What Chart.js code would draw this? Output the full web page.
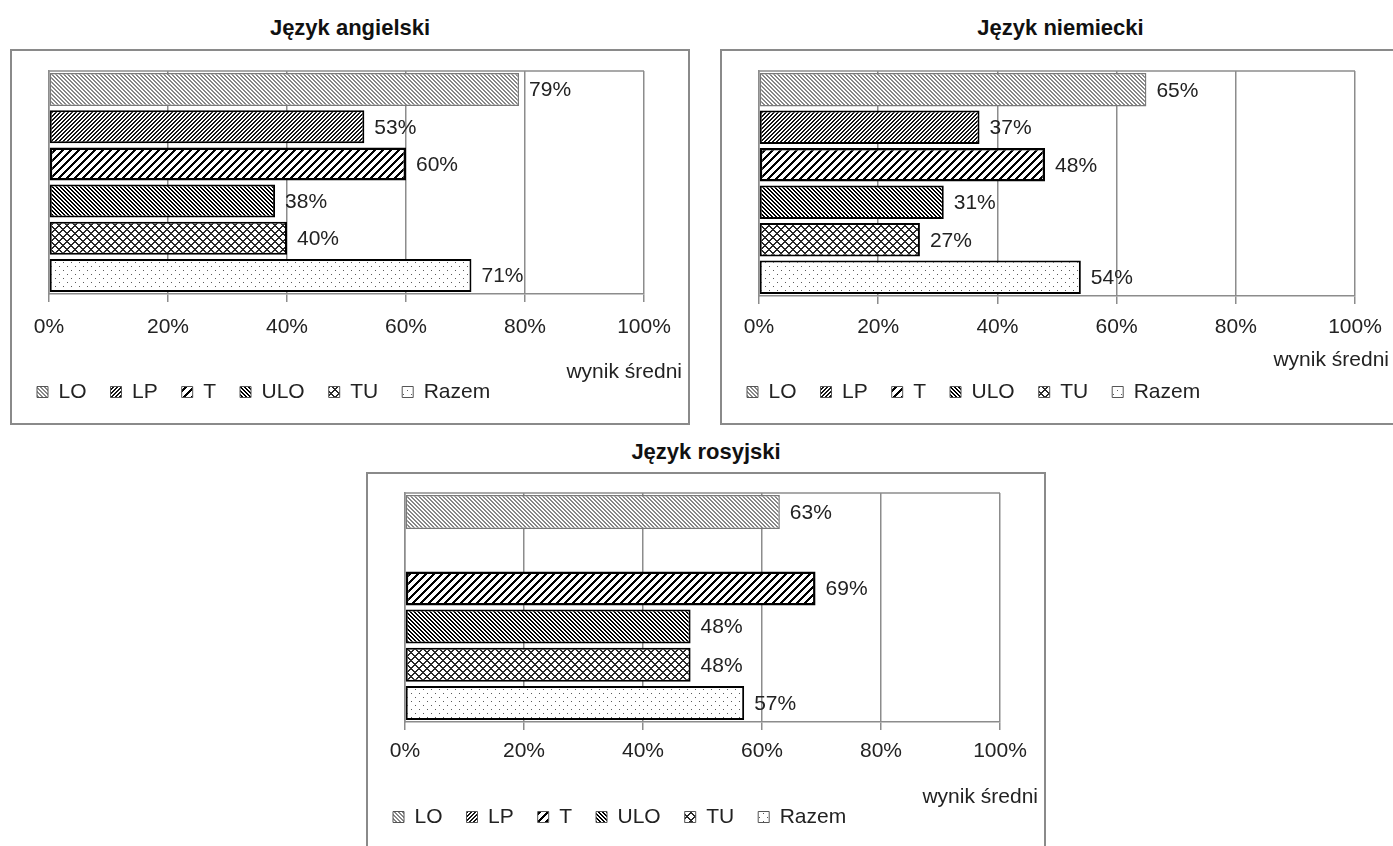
<!DOCTYPE html>
<html><head><meta charset="utf-8">
<script src="https://cdn.jsdelivr.net/npm/chart.js@4.4.1/dist/chart.umd.min.js"></script>
<style>
html,body{margin:0;padding:0;background:#fff;overflow:hidden;width:1393px;height:846px;position:relative;}
.frame{position:absolute;border:2px solid #8a8a8a;box-sizing:border-box;}
.chart{position:absolute;}
.title{position:absolute;font:bold 22px "Liberation Sans",Arial,sans-serif;color:#111;text-align:center;height:26px;line-height:26px;white-space:nowrap;}
</style></head><body>
<script>
// ---- data ----
const categories = ['LO', 'LP', 'T', 'ULO', 'TU', 'Razem'];
const tickValues = [0, 20, 40, 60, 80, 100];
const angielski = [79, 53, 60, 38, 40, 71];
const niemiecki = [65, 37, 48, 31, 27, 54];
const rosyjski = [63, null, 69, 48, 48, 57];
const titles = ['Język angielski', 'Język niemiecki', 'Język rosyjski'];
const axisTitle = 'wynik średni';

// ---- patterns ----
function makeTile(size, fn) {
  const c = document.createElement('canvas');
  c.width = size; c.height = size;
  const g = c.getContext('2d');
  const img = g.createImageData(size, size);
  for (let y = 0; y < size; y++) for (let x = 0; x < size; x++) {
    const col = fn(x, y);
    const i = (y * size + x) * 4;
    img.data[i] = col[0]; img.data[i + 1] = col[1]; img.data[i + 2] = col[2]; img.data[i + 3] = 255;
  }
  g.putImageData(img, 0, 0);
  return g.createPattern(c, 'repeat');
}
const W = [255, 255, 255];
function stripes(p, w, dir, col) {
  return makeTile(p, (x, y) => {
    const k = dir === '/' ? (x + y) % p : ((x - y) % p + p) % p;
    return k < w ? col : W;
  });
}
const patterns = [
  stripes(4, 2, '\\', [135, 135, 135]),        // LO
  stripes(4, 2, '/', [20, 20, 20]),            // LP
  stripes(8, 3, '/', [0, 0, 0]),               // T
  stripes(4, 2, '\\', [0, 0, 0]),              // ULO
  makeTile(8, (x, y) => (((x + y) % 8) < 2 || ((((x - y) % 8) + 8) % 8) < 2) ? [40, 40, 40] : W), // TU
  makeTile(8, (x, y) => ((x === 1 && y === 1) || (x === 5 && y === 5)) ? [90, 90, 90] : W)        // Razem
];
const borderColors = ['#7a7a7a', '#000', '#000', '#000', '#000', '#000'];
const borderWidths = [1.5, 2, 2.5, 2, 2, 2];

const FONT = '"Liberation Sans", Arial, sans-serif';
const FS = 21;
const GRID = '#8c8c8c';

const valueLabels = {
  id: 'valueLabels',
  afterDatasetsDraw(chart) {
    const ctx = chart.ctx;
    ctx.save();
    ctx.font = FS + 'px ' + FONT;
    ctx.fillStyle = '#222';
    ctx.textBaseline = 'middle';
    ctx.textAlign = 'left';
    chart.data.datasets.forEach((ds, i) => {
      const meta = chart.getDatasetMeta(i);
      meta.data.forEach((el, j) => {
        const v = ds.data[j];
        if (v === null || v === undefined) return;
        ctx.fillText(Math.round(v) + '%', el.x + 10, el.y + 1);
      });
    });
    ctx.restore();
  }
};
const plotFrame = {
  id: 'plotFrame',
  beforeDatasetsDraw(chart) {
    const a = chart.chartArea, ctx = chart.ctx;
    ctx.save();
    ctx.strokeStyle = GRID; ctx.lineWidth = 1.5;
    ctx.beginPath(); ctx.moveTo(a.left, a.top); ctx.lineTo(a.right, a.top); ctx.stroke();
    ctx.restore();
  }
};
const axisNote = {
  id: 'axisNote',
  afterDraw(chart, args, opts) {
    const ctx = chart.ctx;
    ctx.save();
    ctx.font = FS + 'px ' + FONT;
    ctx.fillStyle = '#222';
    ctx.textAlign = 'right';
    ctx.textBaseline = 'middle';
    ctx.fillText(opts.text, opts.right, opts.y);
    ctx.restore();
  }
};

const panels = [
  {values: angielski, title: titles[0], box: {x: 10, y: 49, w: 680, h: 376}, top: 22, axisY: 245, tickY: 278, noteY: 323, noteRight: 672, legendY: 343, titleY: 28},
  {values: niemiecki, title: titles[1], box: {x: 720, y: 49, w: 681, h: 376}, top: 22, axisY: 247, tickY: 278, noteY: 311, noteRight: 669, legendY: 343, titleY: 28},
  {values: rosyjski, title: titles[2], box: {x: 366, y: 472, w: 680, h: 376}, top: 21, axisY: 250, tickY: 279, noteY: 325, noteRight: 672, legendY: 345, titleY: 452}
];

panels.forEach((p, idx) => {
  const b = p.box;
  const t = document.createElement('div');
  t.className = 'title';
  t.style.left = b.x + 'px'; t.style.width = b.w + 'px'; t.style.top = (p.titleY - 13) + 'px';
  t.textContent = p.title;
  document.body.appendChild(t);

  const f = document.createElement('div');
  f.className = 'frame';
  Object.assign(f.style, {left: b.x + 'px', top: b.y + 'px', width: b.w + 'px', height: b.h + 'px'});
  document.body.appendChild(f);

  const wrap = document.createElement('div');
  wrap.className = 'chart';
  Object.assign(wrap.style, {left: b.x + 'px', top: b.y + 'px', width: b.w + 'px', height: b.h + 'px'});
  const cv = document.createElement('canvas');
  cv.width = b.w; cv.height = b.h;
  cv.style.width = b.w + 'px'; cv.style.height = b.h + 'px';
  wrap.appendChild(cv);
  document.body.appendChild(wrap);

  const legendPad = 24;
  const legendTop = p.legendY - legendPad - FS / 2;
  const legendH = FS + legendPad + 10;
  const bottomPad = b.h - legendTop - legendH;
  const xAxisH = legendTop - p.axisY;
  const tickPad = p.tickY - p.axisY - 8 - FS * 1.2 / 2;

  const datasets = categories.map((c, i) => ({
    label: c,
    data: categories.map((_, j) => (j === i ? p.values[i] : null)),
    backgroundColor: patterns[i],
    borderColor: borderColors[i],
    borderWidth: borderWidths[i],
    borderSkipped: false,
    barPercentage: 0.89,
    categoryPercentage: 1
  }));

  new Chart(cv, {
    type: 'bar',
    data: {labels: categories, datasets},
    options: {
      indexAxis: 'y',
      responsive: false,
      animation: false,
      devicePixelRatio: 1,
      layout: {padding: {left: 3, top: p.top, right: b.w - (p.box.w - 46), bottom: bottomPad}},
      datasets: {bar: {grouped: false, skipNull: true}},
      scales: {
        x: {
          min: tickValues[0], max: tickValues[tickValues.length - 1],
          afterBuildTicks(scale) { scale.ticks = tickValues.map(v => ({value: v})); },
          afterFit(scale) { scale.height = xAxisH; },
          ticks: {callback: v => v + '%', color: '#222', font: {family: FONT, size: FS}, padding: tickPad, maxRotation: 0},
          grid: {color: GRID, lineWidth: 1.5, tickLength: 8, drawTicks: true},
          border: {display: true, color: GRID, width: 1.5}
        },
        y: {
          afterFit(scale) { scale.width = 36; },
          ticks: {display: false},
          grid: {display: false},
          border: {display: true, color: GRID, width: 1.5}
        }
      },
      plugins: {
        tooltip: {enabled: false},
        legend: {
          position: 'bottom', align: 'start',
          labels: {
            boxWidth: 11, boxHeight: 11, padding: legendPad, color: '#222',
            font: {family: FONT, size: FS},
            generateLabels(chart) {
              return chart.data.datasets.map((ds, i) => ({
                text: ds.label, fillStyle: ds.backgroundColor, strokeStyle: '#555',
                lineWidth: 1, hidden: false, datasetIndex: i, fontColor: '#222'
              }));
            }
          }
        },
        axisNote: {text: axisTitle, right: p.noteRight, y: p.noteY}
      }
    },
    plugins: [plotFrame, valueLabels, axisNote]
  });
});
</script>
</body></html>
